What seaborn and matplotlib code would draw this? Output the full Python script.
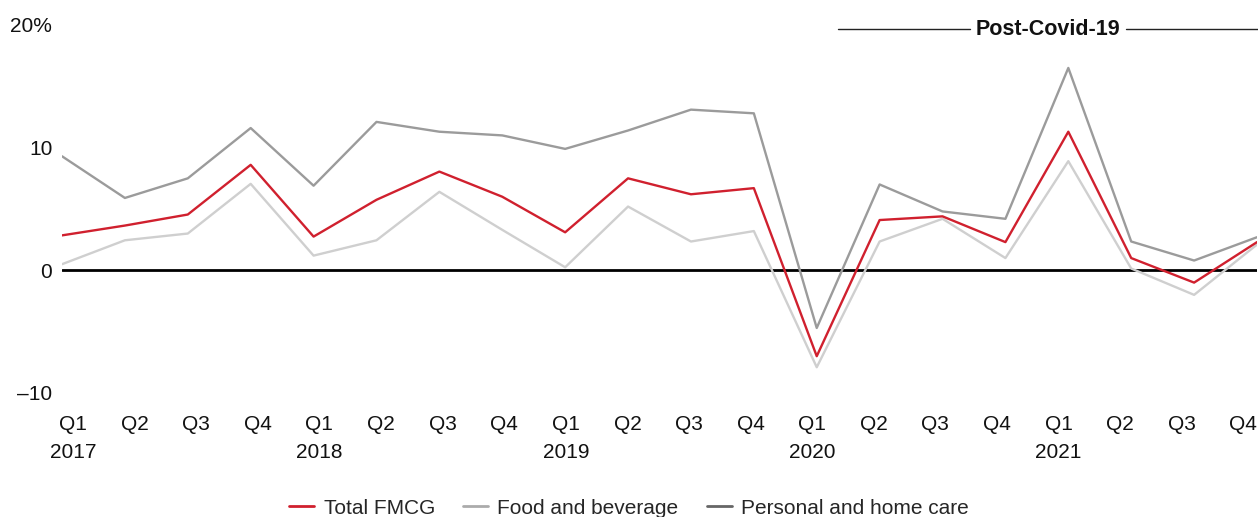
import matplotlib
matplotlib.use("Agg")
import matplotlib.pyplot as plt
import seaborn as sns
import pandas as pd
import numpy as np
from matplotlib.lines import Line2D

quarters = ["Q1", "Q2", "Q3", "Q4"] * 5
years = ["2017", "", "", "", "2018", "", "", "", "2019", "", "", "",
         "2020", "", "", "", "2021", "", "", ""]

total_fmcg = [2.85, 3.65, 4.55, 8.6, 2.75, 5.75, 8.05, 6.0, 3.1, 7.5, 6.2, 6.7,
              -7.0, 4.1, 4.4, 2.3, 11.3, 1.0, -1.0, 2.3]
food_bev = [0.5, 2.45, 3.0, 7.05, 1.2, 2.45, 6.4, 3.3, 0.25, 5.2, 2.35, 3.2,
            -7.9, 2.35, 4.2, 1.0, 8.9, 0.15, -2.0, 2.1]
personal_home = [9.3, 5.9, 7.5, 11.6, 6.9, 12.1, 11.3, 11.0, 9.9, 11.4, 13.1, 12.8,
                 -4.7, 7.0, 4.8, 4.2, 16.5, 2.35, 0.8, 2.7]

series_names = ["Personal and home care", "Food and beverage", "Total FMCG"]
line_colors = {"Personal and home care": "#9b9b9b", "Food and beverage": "#cfcfcf",
               "Total FMCG": "#d0202e"}
legend_colors = {"Total FMCG": "#d0202e", "Food and beverage": "#ababab",
                 "Personal and home care": "#666666"}

sns.set_style("white")
plt.rcParams["font.family"] = ["Liberation Sans", "DejaVu Sans"]

n = len(quarters)
df = pd.DataFrame({
    "idx": list(range(n)) * 3,
    "value": personal_home + food_bev + total_fmcg,
    "series": [series_names[0]] * n + [series_names[1]] * n + [series_names[2]] * n,
})

W, H = 1258, 517
left_px, right_px = 62, 1257
fig = plt.figure(figsize=(W / 100, H / 100), dpi=100)
ax = fig.add_axes([left_px / W, 1 - 393 / H, (right_px - left_px) / W, (393 - 25) / H])

ax.axhline(0, color="black", lw=2.0, zorder=1)
sns.lineplot(data=df, x="idx", y="value", hue="series", hue_order=series_names,
             palette=line_colors, linewidth=1.7, ax=ax, legend=False, zorder=3)

ax.set_xlim(0, n - 1)
ax.set_ylim(-10, 20)
ax.set_yticks([-10, 0, 10, 20])
ax.set_yticklabels(["\u201310", "0", "10", "20%"])

# category labels sit on a slightly narrower band than the data points
px_per_unit = (right_px - left_px) / (n - 1)
label_px = 73 + 61.6 * np.arange(n)
ax.set_xticks((label_px - left_px) / px_per_unit)
ax.set_xticklabels([f"{q}\n{y}" for q, y in zip(quarters, years)], linespacing=1.6)
ax.tick_params(axis="x", length=0, pad=16, labelsize=15, colors="#111111")
ax.tick_params(axis="y", length=0, pad=7, labelsize=15, colors="#111111")
for lbl in ax.get_xticklabels():
    lbl.set_verticalalignment("top")
for s in ax.spines.values():
    s.set_visible(False)
ax.set_xlabel("")
ax.set_ylabel("")

# Post-Covid-19 annotation
def px2x(p):
    return (p - left_px) / px_per_unit

yann = 19.65
ax.plot([px2x(838), px2x(970)], [yann, yann], color="#222222", lw=1.0, clip_on=False)
ax.plot([px2x(1126), px2x(1258)], [yann, yann], color="#222222", lw=1.0, clip_on=False)
ax.text(px2x(1047.5), yann, "Post-Covid-19", ha="center", va="center", fontsize=15.5,
        fontweight="bold", color="#111111", clip_on=False)

handles = [Line2D([0], [0], color=legend_colors[k], lw=2) for k in
           ["Total FMCG", "Food and beverage", "Personal and home care"]]
fig.legend(handles, ["Total FMCG", "Food and beverage", "Personal and home care"],
           loc="center", bbox_to_anchor=(0.5, 1 - 508 / H), ncol=3, frameon=False,
           fontsize=15, handlelength=1.2, handletextpad=0.45, columnspacing=1.35)

fig.savefig("out.png", dpi=100)
